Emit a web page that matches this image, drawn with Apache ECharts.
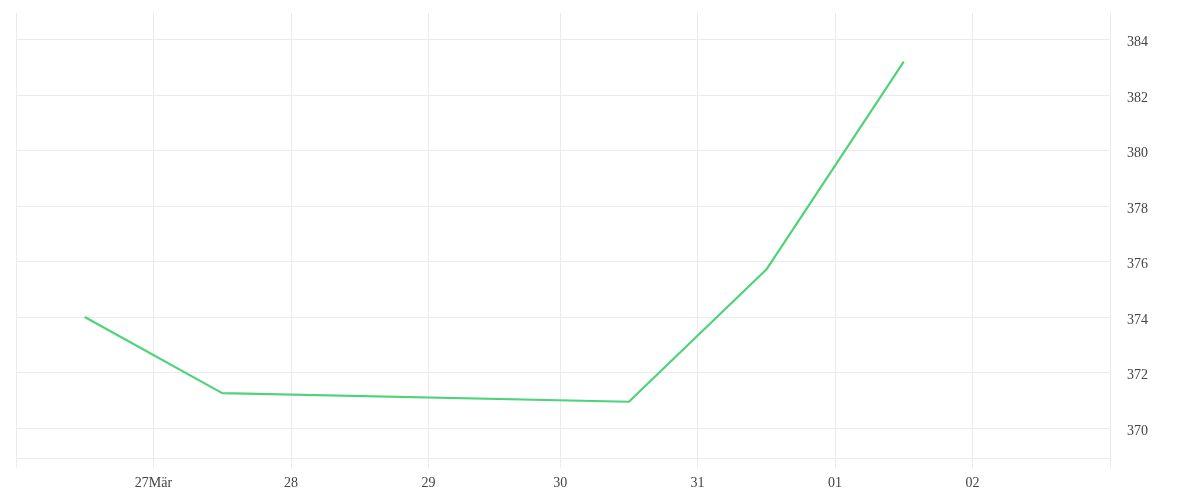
<!DOCTYPE html>
<html>
<head>
<meta charset="utf-8">
<script src="https://cdn.jsdelivr.net/npm/echarts@6/dist/echarts.min.js"></script>
<style>html,body{margin:0;padding:0;background:#fff}#c{width:1200px;height:500px}</style>
</head>
<body>
<div id="c"></div>
<script>
// Data (Europe/Berlin local times, DST starts 29 Mar 2026)
const pointTimes = ['2026-03-26T12:00:00+01:00','2026-03-27T12:00:00+01:00','2026-03-30T12:00:00+02:00','2026-03-31T12:00:00+02:00','2026-04-01T12:00:00+02:00'];
const pointValues = [374.0, 371.26, 370.95, 375.71, 383.2];
const tickTimes = ['2026-03-26T00:00:00+01:00','2026-03-27T00:00:00+01:00','2026-03-28T00:00:00+01:00','2026-03-29T00:00:00+01:00','2026-03-30T00:00:00+02:00','2026-03-31T00:00:00+02:00','2026-04-01T00:00:00+02:00','2026-04-02T00:00:00+02:00','2026-04-03T00:00:00+02:00'];
const labelTimes = tickTimes.slice(1, 8);
const tickLabels = ['27Mär','28','29','30','31','01','02'];
const yTicks = [370, 372, 374, 376, 378, 380, 382, 384];

const tickMs = tickTimes.map(t => Date.parse(t));
const labelMs = labelTimes.map(t => Date.parse(t));
const data = pointTimes.map((t, i) => [Date.parse(t), pointValues[i]]);
const gridColor = '#ebebeb';
const font = 'Liberation Serif';

const chart = echarts.init(document.getElementById('c'));
chart.setOption({
  animation: false,
  grid: {left: 16, right: 90, top: 12.7, bottom: 41.3, containLabel: false},
  xAxis: {
    type: 'value',
    min: tickMs[0],
    max: tickMs[tickMs.length - 1],
    axisLine: {show: true, lineStyle: {color: gridColor, width: 1}},
    axisTick: {show: true, length: 9, customValues: tickMs, lineStyle: {color: gridColor}},
    splitLine: {show: true, lineStyle: {color: gridColor, width: 1}},
    axisLabel: {
      customValues: labelMs,
      margin: 18,
      color: '#444',
      fontFamily: font,
      fontSize: 14,
      formatter: v => { const i = labelMs.indexOf(v); return i >= 0 ? tickLabels[i] : ''; }
    }
  },
  yAxis: {
    type: 'value',
    position: 'right',
    min: 368.9,
    max: 384.96,
    axisLine: {show: false},
    axisTick: {show: false, customValues: yTicks},
    splitLine: {show: true, lineStyle: {color: gridColor, width: 1}},
    axisLabel: {
      customValues: yTicks, margin: 17, color: '#444', fontFamily: font, fontSize: 14,
      formatter: v => '{a|' + v + '}',
      rich: {a: {color: '#444', fontFamily: font, fontSize: 14, padding: [6, 0, 0, 0]}}
    }
  },
  series: [{
    type: 'line',
    data: data,
    showSymbol: false,
    symbol: 'none',
    lineStyle: {color: '#4ed37b', width: 2.2},
    itemStyle: {color: '#4ed37b'}
  }]
});
</script>
</body>
</html>
